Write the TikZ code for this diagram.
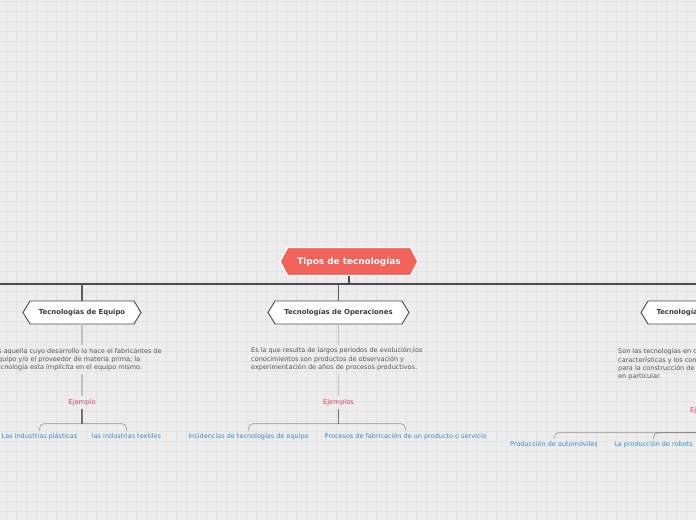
\documentclass[tikz,border=0pt]{standalone}
\usepackage{fontspec}
\setmainfont{DejaVu Sans}
\usetikzlibrary{shapes.symbols,calc}
\definecolor{bg}{HTML}{EDEDED}
\definecolor{gridc}{HTML}{E4E4E4}
\definecolor{rootred}{HTML}{F2635A}
\definecolor{exred}{HTML}{D94562}
\definecolor{leafblue}{HTML}{368AC4}
\definecolor{desctext}{HTML}{555555}
\definecolor{nodetext}{HTML}{3A3A3A}
\definecolor{trunkc}{HTML}{4A4A4A}
\tikzset{
  rootnode/.style={signal, signal to=west and east, signal pointer angle=124,
    fill=rootred, draw=white, line width=1.4pt, text=white,
    font=\fontsize{8.9}{10}\selectfont\bfseries,
    minimum width=138pt, minimum height=28pt, inner sep=0pt},
  catnode/.style={signal, signal to=west and east, signal pointer angle=117,
    fill=white, draw=trunkc, line width=0.9pt, text=nodetext,
    font=\fontsize{6.9}{8}\selectfont\bfseries,
    minimum height=23pt, inner sep=0pt},
  desc/.style={anchor=north west, align=left, inner sep=0pt, text=desctext,
    font=\fontsize{6.5}{8.3}\selectfont},
  exlabel/.style={inner sep=0pt, text=exred, text height=5pt, text depth=1.5pt,
    font=\fontsize{6.8}{8}\selectfont},
  leaf/.style={inner sep=0pt, text=leafblue, text height=5pt, text depth=1.5pt,
    font=\fontsize{6.5}{8}\selectfont},
  trunk/.style={draw=trunkc, line width=1.6pt},
  stub/.style={draw=trunkc, line width=2.6pt},
  vline/.style={draw=trunkc!90, line width=1.2pt},
  light/.style={draw=black!25, line width=1.3pt},
  dark/.style={draw=black!55, line width=1.3pt},
  bracket/.style={draw=black!60, draw opacity=0.45, line width=1pt, rounded corners=5pt},
}
\begin{document}
\begin{tikzpicture}[x=1pt,y=-1pt]
\useasboundingbox (0,0) rectangle (696,520);
\clip (0,0) rectangle (696,520);
\fill[bg] (0,0) rectangle (696,520);
\foreach \i in {0,...,69} {\draw[gridc, line width=0.7pt] (6.7+10*\i,0) -- (6.7+10*\i,520);}
\foreach \j in {0,...,51} {\draw[gridc, line width=0.7pt] (0,1.7+10*\j) -- (696,1.7+10*\j);}

% root and trunk
\node[rootnode] (root) at (349,261.5) {Tipos de tecnologías};
\coordinate (hl) at (349,284);
\coordinate (hL) at (-10,284);
\coordinate (hR) at (720,284);
\draw[trunk] (hL) -- (hR);
\draw[stub] (root.south) -- (hl);

% categories
\node[catnode, minimum width=118pt] (c1) at (82,312.5) {Tecnologías de Equipo};
\node[catnode, minimum width=141pt] (c2) at (338.5,312.5) {Tecnologías de Operaciones};
\node[catnode, minimum width=127pt, text width=96pt, align=left] (c3) at (704.5,312.5) {Tecnologías};
\draw[vline] (c1 |- hl) -- (c1.north);
\draw[vline] (c2 |- hl) -- (c2.north);
\draw[vline] (c3 |- hl) -- (c3.north);

% descriptions
\node[desc] (d1) at (-6,348) {Es aquella cuyo desarrollo lo hace el fabricantes de\\equipo y/o el proveedor de materia prima; la\\tecnología esta implícita en el equipo mismo.};
\node[desc] (d2) at (251,347.5) {Es la que resulta de largos periodos de evolución;los\\conocimientos son productos de observación y\\experimentación de años de procesos productivos.};
\node[desc] (d3) at (618,348.5) {Son las tecnologías en c\\características y los con\\para la construcción de\\en particular.};
\draw[light, shorten >=3pt] (c1.south) -- (c1 |- d1.north);
\draw[light, shorten >=3pt] (c2.south) -- (c2 |- d2.north);
\draw[light, shorten >=3pt] (c3.south) -- (c3 |- d3.north);

% example labels
\node[exlabel] (e1) at (82,402.5) {Ejemplo};
\node[exlabel] (e2) at (338.5,402.5) {Ejemplos};
\node[exlabel] (e3) at (705.5,411) {Ejemplos};
\draw[light, shorten <=3pt, shorten >=3pt] (c1 |- d1.south) -- (e1.north);
\draw[light, shorten <=3pt, shorten >=3pt] (c2 |- d2.south) -- (e2.north);
\draw[light, shorten <=3pt, shorten >=3pt] (c3 |- d3.south) -- (e3.north);

\coordinate (b1) at (82,423.5);
\coordinate (b2) at (338.5,423.5);
\coordinate (b3) at (705.5,432.5);
\coordinate (b3r) at (730,432.5);
\draw[dark, shorten <=3pt] (e1.south) -- (b1);
\draw[dark, shorten <=3pt] (e2.south) -- (b2);
\draw[dark, shorten <=3pt] (e3.south) -- (b3);

% leaves
\node[leaf] (l11) at (39.5,436.5) {Las industrias plásticas};
\node[leaf] (l12) at (126.5,436.5) {las industrias textiles};
\node[leaf] (l21) at (248.5,436.5) {Incidencias de tecnologías de equipo};
\node[leaf] (l22) at (405.5,436.5) {Procesos de fabricación de un producto o servicio};
\node[leaf] (l31) at (554,444.5) {Producción de automóviles};
\node[leaf] (l32) at (653.5,445) {La producción de robots};

\draw[bracket] ($(l11.north)+(0,-2.5)$) |- (b1) -| ($(l12.north)+(0,-2.5)$);
\draw[bracket] ($(l21.north)+(0,-2.5)$) |- (b2) -| ($(l22.north)+(0,-2.5)$);
\draw[bracket] ($(l31.north)+(0,-2.5)$) |- (b3r);
\draw[bracket] ($(l32.north)+(0,-2.5)$) |- (b3r);
\end{tikzpicture}
\end{document}
